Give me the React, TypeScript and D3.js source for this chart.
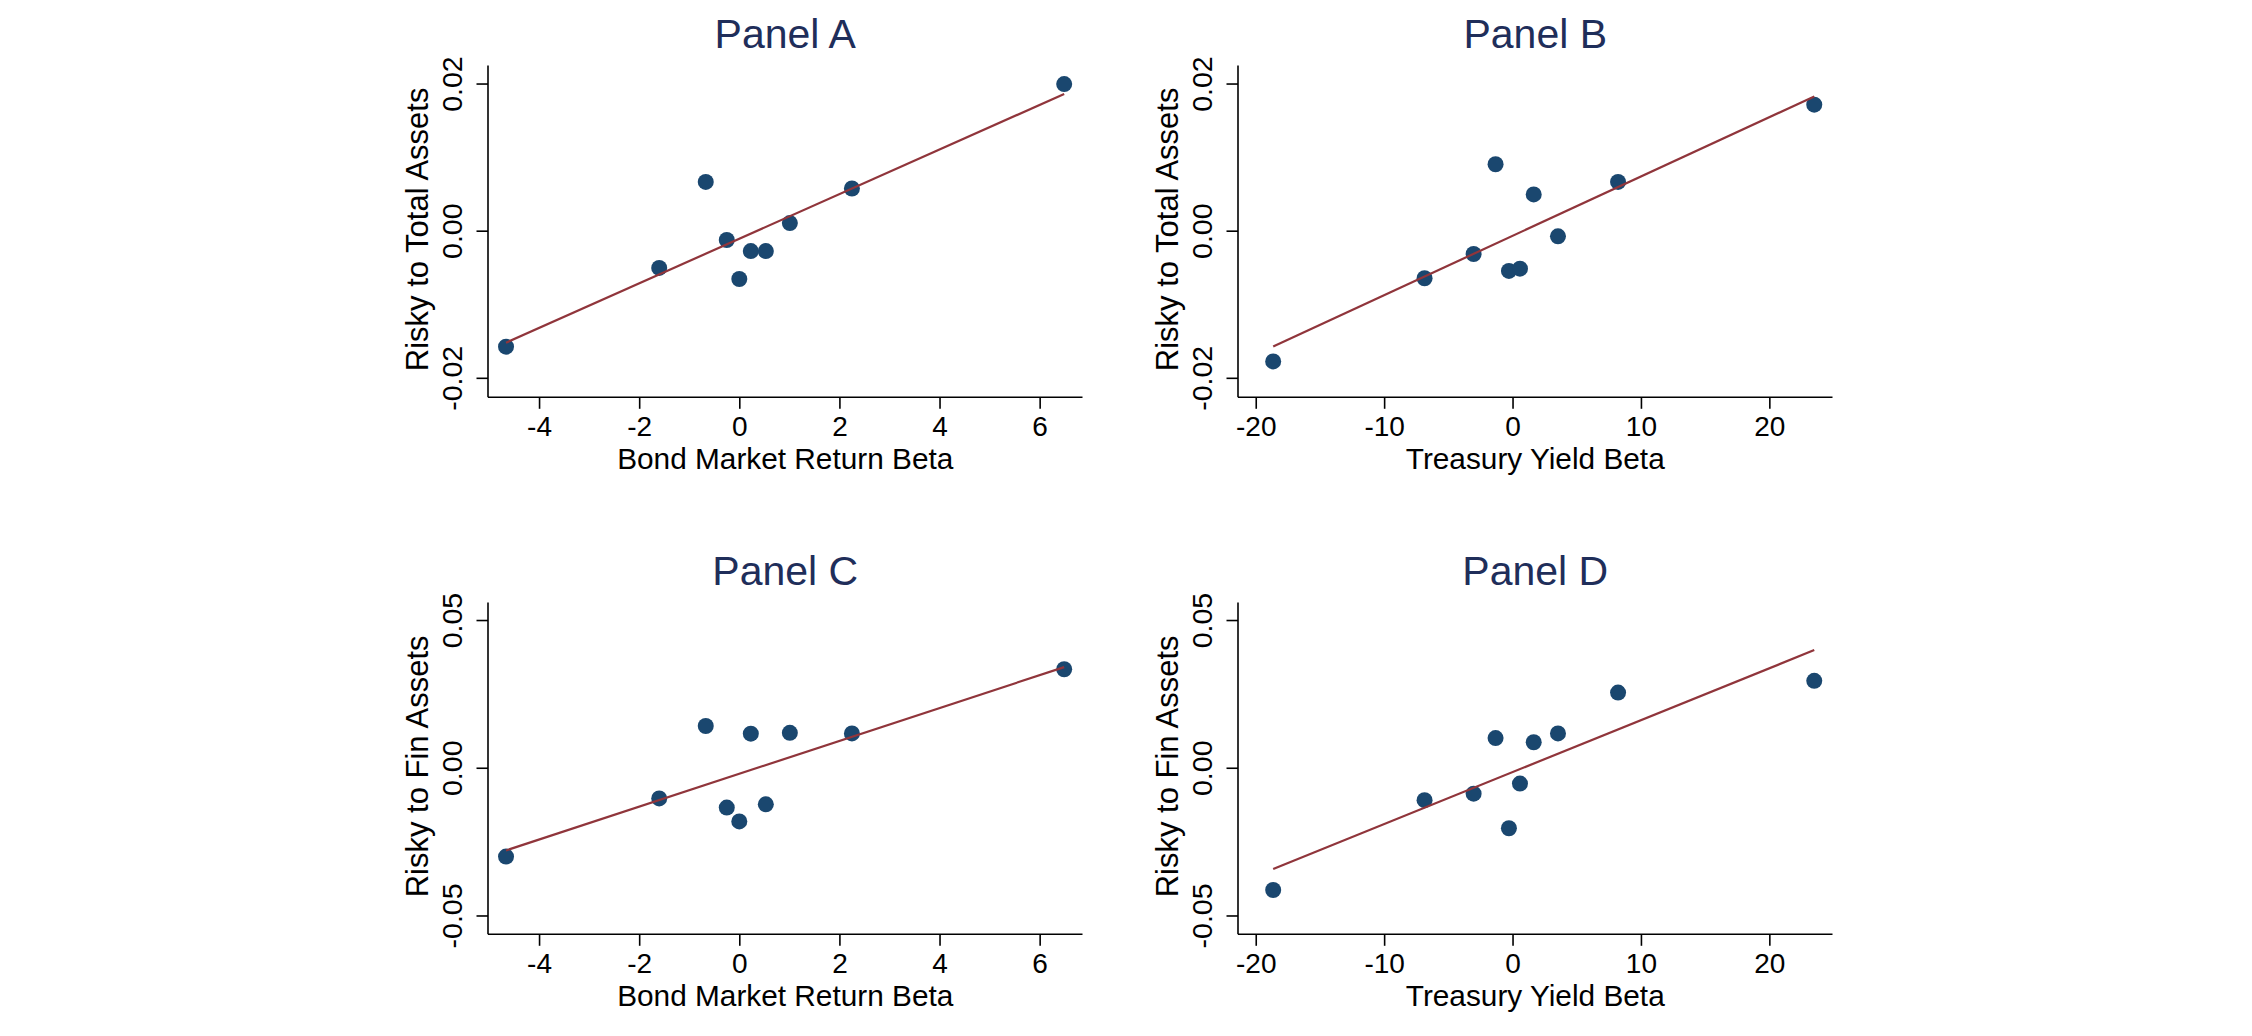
import React from "react";
import * as d3 from "d3";

// Bond market return beta (x for panels A and C)
const bondReturnBeta = [6.48, -0.68, 2.24, 1.0, -0.26, 0.22, 0.52, -1.61, -0.01, -4.67];
// Risky to total assets against bond beta (panel A)
const riskyTotalA = [0.02, 0.0067, 0.0058, 0.0011, -0.0012, -0.0027, -0.0027, -0.005, -0.0065, -0.0157];
// Risky to financial assets against bond beta (panel C)
const riskyFinC = [0.0335, 0.0143, 0.0118, 0.012, -0.0133, 0.0117, -0.0122, -0.0102, -0.018, -0.0299];

// Treasury yield beta (x for panels B and D)
const treasuryYieldBeta = [23.46, -1.36, 8.18, 1.61, 3.5, -3.07, -0.32, 0.54, -6.89, -18.68];
// Risky to total assets against treasury beta (panel B)
const riskyTotalB = [0.0172, 0.0091, 0.0067, 0.005, -0.0007, -0.0031, -0.0054, -0.0051, -0.0064, -0.0177];
// Risky to financial assets against treasury beta (panel D)
const riskyFinD = [0.0296, 0.0102, 0.0256, 0.0088, 0.0118, -0.0086, -0.0203, -0.0052, -0.0108, -0.0412];

// Tick values
const bondTicks = [-4, -2, 0, 2, 4, 6];
const treasuryTicks = [-20, -10, 0, 10, 20];
const totalTicks = [-0.02, 0, 0.02];
const finTicks = [-0.05, 0, 0.05];

// Axis titles and panel titles
const panelTitles = ["Panel A", "Panel B", "Panel C", "Panel D"];
const xTitles = ["Bond Market Return Beta", "Treasury Yield Beta"];
const yTitles = ["Risky to Total Assets", "Risky to Fin Assets"];

const W = 2252;
const H = 1036;
const FONT = "'Liberation Sans', Arial, Helvetica, sans-serif";
const MARKER = "#1a476f";
const FIT = "#90353b";
const TITLE = "#1f2e5a";

const locale = d3.formatLocale({
  decimal: ".",
  thousands: ",",
  grouping: [3],
  currency: ["", ""],
  minus: "-",
});
const fmtY = locale.format(".2f");
const fmtX = locale.format("d");

// plot-region geometry for the two columns and two rows
const cols = [
  { left: 488, right: 1082.5 },
  { left: 1238, right: 1832.5 },
];
const rows = [
  { top: 65.5, bottom: 397.3 },
  { top: 602.5, bottom: 934.3 },
];

type PanelSpec = {
  title: string;
  xs: number[];
  ys: number[];
  xDomain: [number, number];
  yDomain: [number, number];
  xTicks: number[];
  yTicks: number[];
  xTitle: string;
  yTitle: string;
  col: number;
  row: number;
};

const panels: PanelSpec[] = [
  {
    title: panelTitles[0], xs: bondReturnBeta, ys: riskyTotalA,
    xDomain: [-5.03, 6.846], yDomain: [-0.02258, 0.02252],
    xTicks: bondTicks, yTicks: totalTicks, xTitle: xTitles[0], yTitle: yTitles[0], col: 0, row: 0,
  },
  {
    title: panelTitles[1], xs: treasuryYieldBeta, ys: riskyTotalB,
    xDomain: [-21.42, 24.88], yDomain: [-0.02258, 0.02252],
    xTicks: treasuryTicks, yTicks: totalTicks, xTitle: xTitles[1], yTitle: yTitles[0], col: 1, row: 0,
  },
  {
    title: panelTitles[2], xs: bondReturnBeta, ys: riskyFinC,
    xDomain: [-5.03, 6.846], yDomain: [-0.0562, 0.0561],
    xTicks: bondTicks, yTicks: finTicks, xTitle: xTitles[0], yTitle: yTitles[1], col: 0, row: 1,
  },
  {
    title: panelTitles[3], xs: treasuryYieldBeta, ys: riskyFinD,
    xDomain: [-21.42, 24.88], yDomain: [-0.0562, 0.0561],
    xTicks: treasuryTicks, yTicks: finTicks, xTitle: xTitles[1], yTitle: yTitles[1], col: 1, row: 1,
  },
];

// ordinary least squares fit of y on x
function olsFit(xs: number[], ys: number[]) {
  const mx = d3.mean(xs) as number;
  const my = d3.mean(ys) as number;
  const sxy = d3.sum(xs, (x, i) => (x - mx) * (ys[i] - my));
  const sxx = d3.sum(xs, (x) => (x - mx) * (x - mx));
  const slope = sxy / sxx;
  return { slope, intercept: my - slope * mx };
}

function Panel({ p }: { p: PanelSpec }) {
  const { left, right } = cols[p.col];
  const { top, bottom } = rows[p.row];
  const x = d3.scaleLinear().domain(p.xDomain).range([left, right]);
  const y = d3.scaleLinear().domain(p.yDomain).range([bottom, top]);
  const fit = olsFit(p.xs, p.ys);
  const [xMin, xMax] = d3.extent(p.xs) as [number, number];
  const fitPts: [number, number][] = [xMin, xMax].map((v) => [v, fit.intercept + fit.slope * v]);
  const line = d3
    .line<[number, number]>()
    .x((d) => x(d[0]))
    .y((d) => y(d[1]));
  const cx = (left + right) / 2;
  const cy = (top + bottom) / 2;
  const tickLen = 11.5;

  return (
    <g>
      <text x={cx} y={top - 17.5} textAnchor="middle" fontSize={41} fill={TITLE} fontFamily={FONT}>
        {p.title}
      </text>
      {/* axes */}
      <line x1={left} x2={left} y1={top} y2={bottom} stroke="#000" strokeWidth={1.6} />
      <line x1={left} x2={right} y1={bottom} y2={bottom} stroke="#000" strokeWidth={1.6} />
      {p.yTicks.map((t) => (
        <g key={"y" + t}>
          <line x1={left - tickLen} x2={left} y1={y(t)} y2={y(t)} stroke="#000" strokeWidth={1.6} />
          <text
            transform={`translate(${left - 26.5},${y(t)}) rotate(-90)`}
            textAnchor="middle"
            fontSize={28.5}
            fontFamily={FONT}
            fill="#000"
          >
            {fmtY(t)}
          </text>
        </g>
      ))}
      {p.xTicks.map((t) => (
        <g key={"x" + t}>
          <line x1={x(t)} x2={x(t)} y1={bottom} y2={bottom + tickLen} stroke="#000" strokeWidth={1.6} />
          <text x={x(t)} y={bottom + 39} textAnchor="middle" fontSize={28} fontFamily={FONT} fill="#000">
            {fmtX(t)}
          </text>
        </g>
      ))}
      <text x={cx} y={bottom + 71.5} textAnchor="middle" fontSize={29.8} fontFamily={FONT} fill="#000">
        {p.xTitle}
      </text>
      <text
        transform={`translate(${left - 60},${cy - 2}) rotate(-90)`}
        textAnchor="middle"
        fontSize={31}
        fontFamily={FONT}
        fill="#000"
      >
        {p.yTitle}
      </text>
      {/* markers */}
      {p.xs.map((v, i) => (
        <circle key={i} cx={x(v)} cy={y(p.ys[i])} r={8} fill={MARKER} />
      ))}
      {/* fitted line */}
      <path d={line(fitPts) ?? ""} fill="none" stroke={FIT} strokeWidth={2.2} />
    </g>
  );
}

export default function App() {
  return (
    <svg
      width={W}
      height={H}
      viewBox={`0 0 ${W} ${H}`}
      style={{ position: "absolute", left: 0, top: 0, display: "block", background: "#fff" }}
    >
      <rect x={0} y={0} width={W} height={H} fill="#fff" />
      {panels.map((p) => (
        <Panel key={p.title} p={p} />
      ))}
    </svg>
  );
}
